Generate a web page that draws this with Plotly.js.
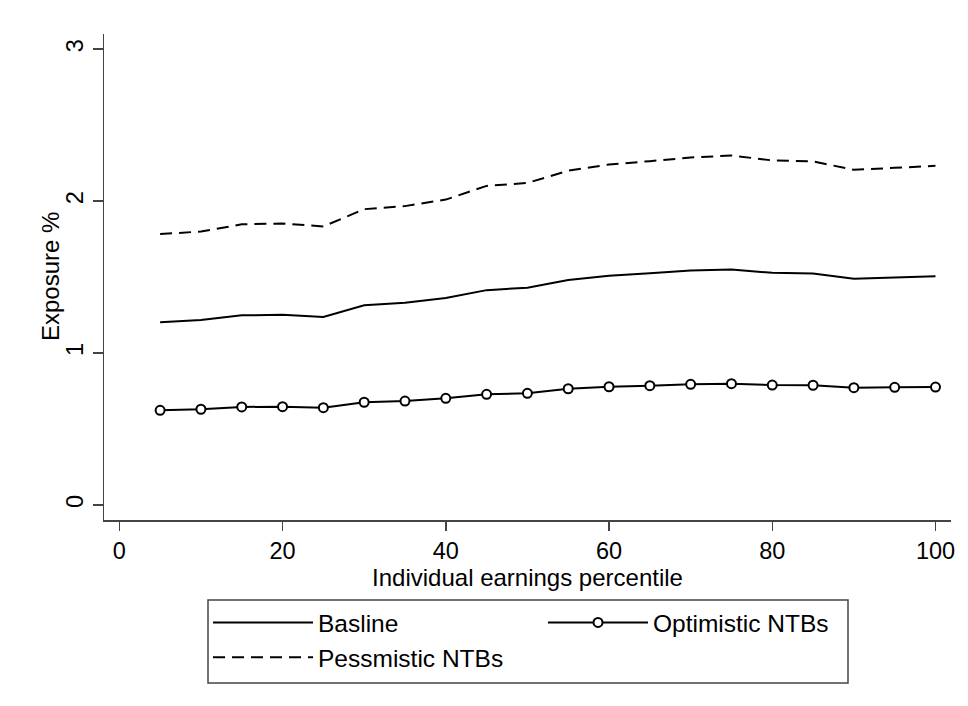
<!DOCTYPE html>
<html>
<head>
<meta charset="utf-8">
<script src="https://cdn.plot.ly/plotly-3.0.1.min.js"></script>
<style>html,body{margin:0;padding:0;background:#fff;}#chart{width:968px;height:706px;}</style>
</head>
<body>
<div id="chart"></div>
<script>
const percentiles = [5,10,15,20,25,30,35,40,45,50,55,60,65,70,75,80,85,90,95,100];
const baseline = [1.202,1.217,1.248,1.252,1.237,1.314,1.331,1.362,1.414,1.430,1.480,1.509,1.526,1.544,1.550,1.528,1.524,1.489,1.498,1.505];
const optimistic = [0.623,0.630,0.645,0.647,0.640,0.676,0.684,0.702,0.728,0.735,0.765,0.778,0.785,0.794,0.798,0.789,0.788,0.772,0.774,0.776];
const pessimistic = [1.783,1.800,1.847,1.853,1.833,1.947,1.967,2.010,2.100,2.120,2.200,2.241,2.263,2.287,2.300,2.268,2.261,2.206,2.219,2.232];
const xTicks = [0,20,40,60,80,100];
const yTicks = [0,1,2,3];

const FONT = 'Liberation Sans, Arial, sans-serif';
const traces = [
  {x: percentiles, y: baseline, name: 'Basline', mode: 'lines', type: 'scatter',
   line: {color: '#000', width: 2}},
  {x: percentiles, y: optimistic, name: 'Optimistic NTBs', mode: 'lines+markers', type: 'scatter',
   line: {color: '#000', width: 2},
   marker: {symbol: 'circle', size: 9, color: '#fff', line: {color: '#000', width: 2}}},
  {x: percentiles, y: pessimistic, name: 'Pessmistic NTBs', mode: 'lines', type: 'scatter',
   line: {color: '#000', width: 2, dash: '12px,7px'}}
];

// plot area: 104..951 px horizontally, 34..520 px vertically
const PW = 847, PH = 486;
const layout = {
  width: 968, height: 706,
  margin: {l: 104, r: 17, t: 34, b: 186, autoexpand: false},
  paper_bgcolor: '#fff', plot_bgcolor: '#fff',
  font: {family: FONT, size: 24, color: '#000'},
  showlegend: true,
  xaxis: {
    range: [-1.875, 101.9], tickvals: xTicks, ticktext: xTicks.map(String),
    showgrid: false, zeroline: false, showline: true, linecolor: '#444', linewidth: 1.5,
    ticks: 'outside', ticklen: 9, tickwidth: 1.5, tickcolor: '#444',
    tickfont: {size: 23.5, family: FONT, color: '#000'},
    title: {text: 'Individual earnings percentile', font: {size: 24, family: FONT, color: '#000'}, standoff: 5}
  },
  yaxis: {
    range: [-0.099, 3.1], tickvals: yTicks, ticktext: yTicks.map(String),
    showgrid: false, zeroline: false, showline: true, linecolor: '#444', linewidth: 1.5,
    ticks: 'outside', ticklen: 10, tickwidth: 1.5, tickcolor: '#444', tickangle: -90,
    tickfont: {size: 23.5, family: FONT, color: '#000'}
  },
  annotations: [{
    text: 'Exposure %', xref: 'paper', yref: 'paper', x: (50 - 104) / PW, y: 0.5,
    xanchor: 'center', yanchor: 'middle', textangle: -90, showarrow: false,
    font: {size: 24, family: FONT, color: '#000'}
  }],
  shapes: [{
    type: 'rect', xref: 'paper', yref: 'paper',
    x0: (208 - 104) / PW, x1: (848 - 104) / PW,
    y0: (520 - 683) / PH, y1: (520 - 600) / PH,
    line: {color: '#444', width: 1.5}, fillcolor: 'rgba(0,0,0,0)', layer: 'above'
  }],
  legend: {
    orientation: 'h', x: 0.1228, xanchor: 'left', y: -0.1646, yanchor: 'top',
    borderwidth: 0, bgcolor: 'rgba(0,0,0,0)',
    font: {size: 24.5, family: FONT, color: '#000'},
    itemwidth: 100, entrywidth: 220, entrywidthmode: 'pixels',
    tracegroupgap: 0
  }
};

Plotly.newPlot('chart', traces, layout, {displayModeBar: false, staticPlot: true});
</script>
</body>
</html>
